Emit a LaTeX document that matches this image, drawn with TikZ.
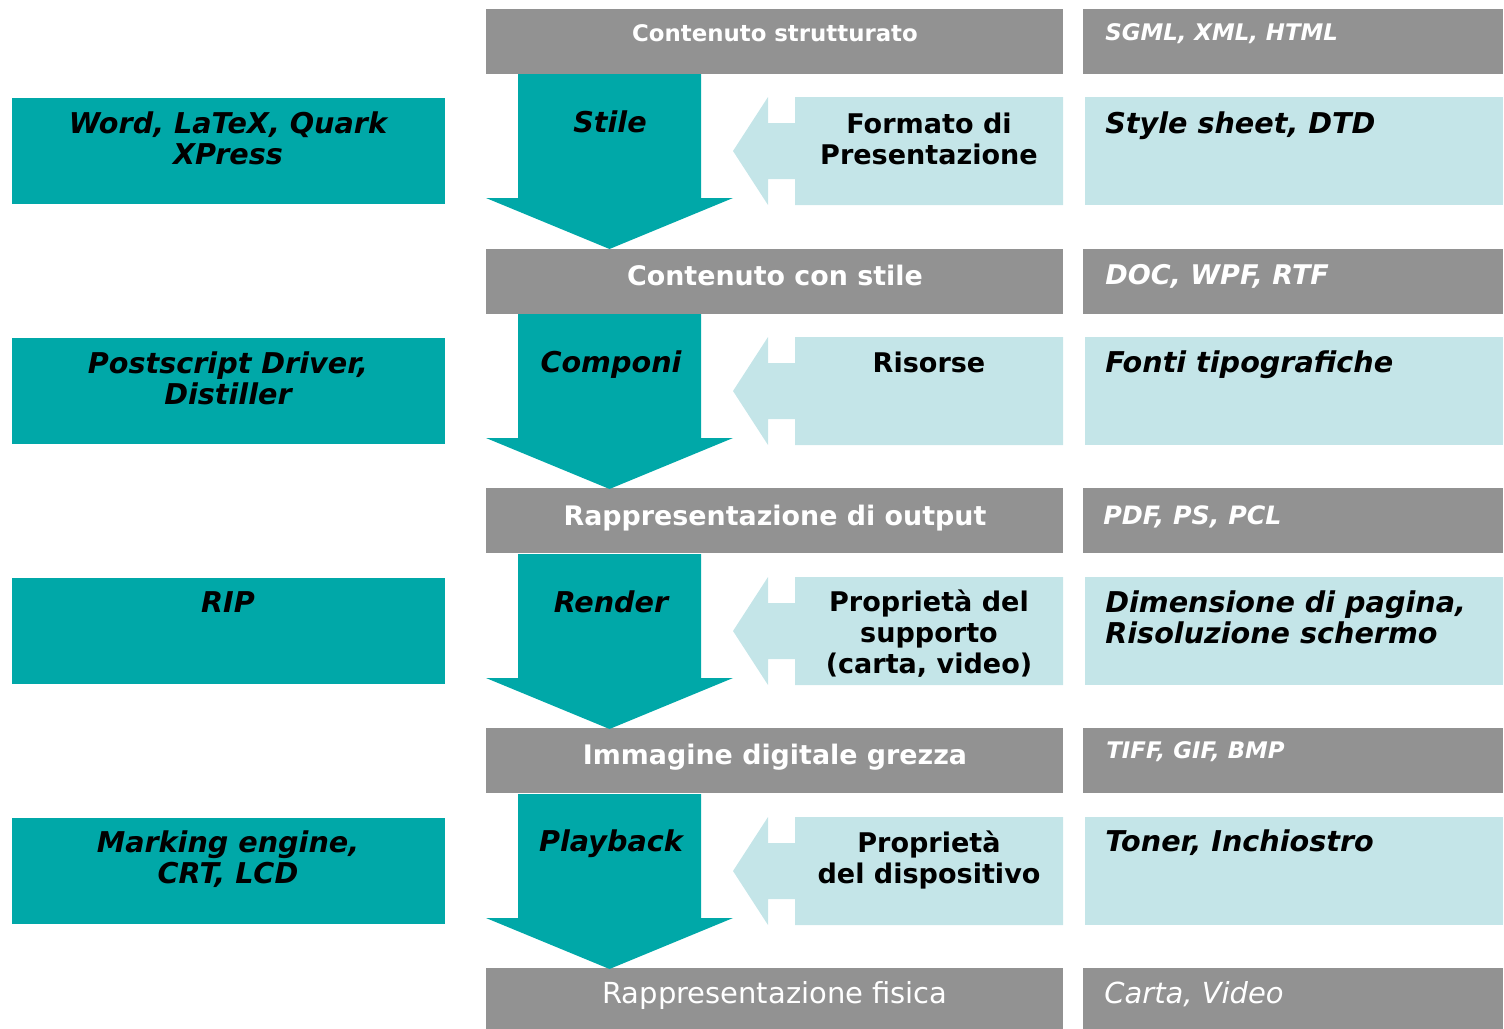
\documentclass[tikz,border=0pt]{standalone}
\usepackage{fontspec}
\setmainfont{DejaVu Sans}
\definecolor{barGrey}{HTML}{929292}
\definecolor{tealBox}{HTML}{00A8A8}
\definecolor{paleBox}{HTML}{C4E5E8}
\begin{document}
\begin{tikzpicture}[x=0.02cm,y=-0.02cm,
  bartext/.style={text=white,inner sep=0pt,anchor=base,
    font=\bfseries\fontsize{15.3}{17.5}\selectfont},
  barsmall/.style={bartext,font=\bfseries\fontsize{13}{15}\selectfont},
  fmttext/.style={text=white,inner sep=0pt,anchor=base west,
    font=\bfseries\itshape\fontsize{15.4}{17.5}\selectfont},
  fmtsmall/.style={fmttext,font=\bfseries\itshape\fontsize{13}{15}\selectfont},
  proctext/.style={inner sep=0pt,anchor=base,
    font=\bfseries\itshape\fontsize{16.3}{17.6}\selectfont},
  tooltext/.style={proctext,align=center},
  paramtext/.style={proctext,anchor=base west,align=left},
  inputtext/.style={inner sep=0pt,anchor=base,align=center,
    font=\bfseries\fontsize{15.4}{17.6}\selectfont}
]
  \newcommand{\tealArrow}[1]{
    \fill[tealBox] (518,74+#1) -- (701,74+#1) -- (701,198+#1) -- (733,198+#1)
      -- (609.5,249+#1) -- (486,198+#1) -- (518,198+#1) -- cycle;
  }
  \newcommand{\paleArrow}[1]{
    \fill[paleBox] (1063,97+#1) -- (795,97+#1) -- (795,123+#1) -- (768,123+#1)
      -- (768,97+#1) -- (733,151+#1) -- (768,205+#1) -- (768,179+#1)
      -- (795,179+#1) -- (795,205+#1) -- (1063,205+#1) -- cycle;
  }
\useasboundingbox (0,0) rectangle (1504,1028);
\clip (0,0) rectangle (1504,1028);

% grey bars
\foreach \d in {0,240,479,719,959}{
  \fill[barGrey] (486,9+\d) rectangle (1063,74+\d);
  \fill[barGrey] (1083,9+\d) rectangle (1503,74+\d);
}
% rows
\foreach \d in {0,240,480,720}{
  \fill[tealBox] (12,98+\d) rectangle (445,204+\d);
  \fill[paleBox] (1085,97+\d) rectangle (1503,205+\d);
  \tealArrow{\d}
  \paleArrow{\d}
}

% representations
\node[barsmall] (rep1) at (775,41) {Contenuto strutturato};
\node[bartext] (rep2) at (775,285) {Contenuto con stile};
\node[bartext] (rep3) at (775,525) {Rappresentazione di output};
\node[bartext] (rep4) at (775,764) {Immagine digitale grezza};
\node[bartext,font=\fontsize{16.5}{18}\selectfont] (rep5) at (775,1003) {Rappresentazione fisica};

% formats
\node[fmtsmall] (fmt1) at (1105,40) {SGML, XML, HTML};
\node[fmttext] (fmt2) at (1105,284) {DOC, WPF, RTF};
\node[fmttext,font=\bfseries\itshape\fontsize{14.4}{17}\selectfont] (fmt3) at (1103,524) {PDF, PS, PCL};
\node[fmtsmall] (fmt4) at (1106,758) {TIFF, GIF, BMP};
\node[fmttext,font=\itshape\fontsize{16.5}{18}\selectfont] (fmt5) at (1104,1003) {Carta, Video};

% processes
\node[proctext] (proc1) at (610,132) {Stile};
\node[proctext] (proc2) at (611,372) {Componi};
\node[proctext] (proc3) at (611,612) {Render};
\node[proctext] (proc4) at (611,851) {Playback};

% inputs (base = last line)
\node[inputtext] (in1) at (929,164) {Formato di\\Presentazione};
\node[inputtext] (in2) at (929,372) {Risorse};
\node[inputtext] (in3) at (929,673) {Proprietà del\\supporto\\(carta, video)};
\node[inputtext] (in4) at (929,883) {Proprietà\\del dispositivo};

% tools
\node[tooltext] (tool1) at (228,164) {Word, LaTeX, Quark\\XPress};
\node[tooltext] (tool2) at (228,404) {Postscript Driver,\\Distiller};
\node[tooltext] (tool3) at (228,612) {RIP};
\node[tooltext] (tool4) at (228,883) {Marking engine,\\CRT, LCD};

% parameters
\node[paramtext] (par1) at (1105,133) {Style sheet, DTD};
\node[paramtext] (par2) at (1105,372) {Fonti tipografiche};
\node[paramtext] (par3) at (1105,643) {Dimensione di pagina,\\Risoluzione schermo};
\node[paramtext] (par4) at (1105,851) {Toner, Inchiostro};
\end{tikzpicture}
\end{document}
